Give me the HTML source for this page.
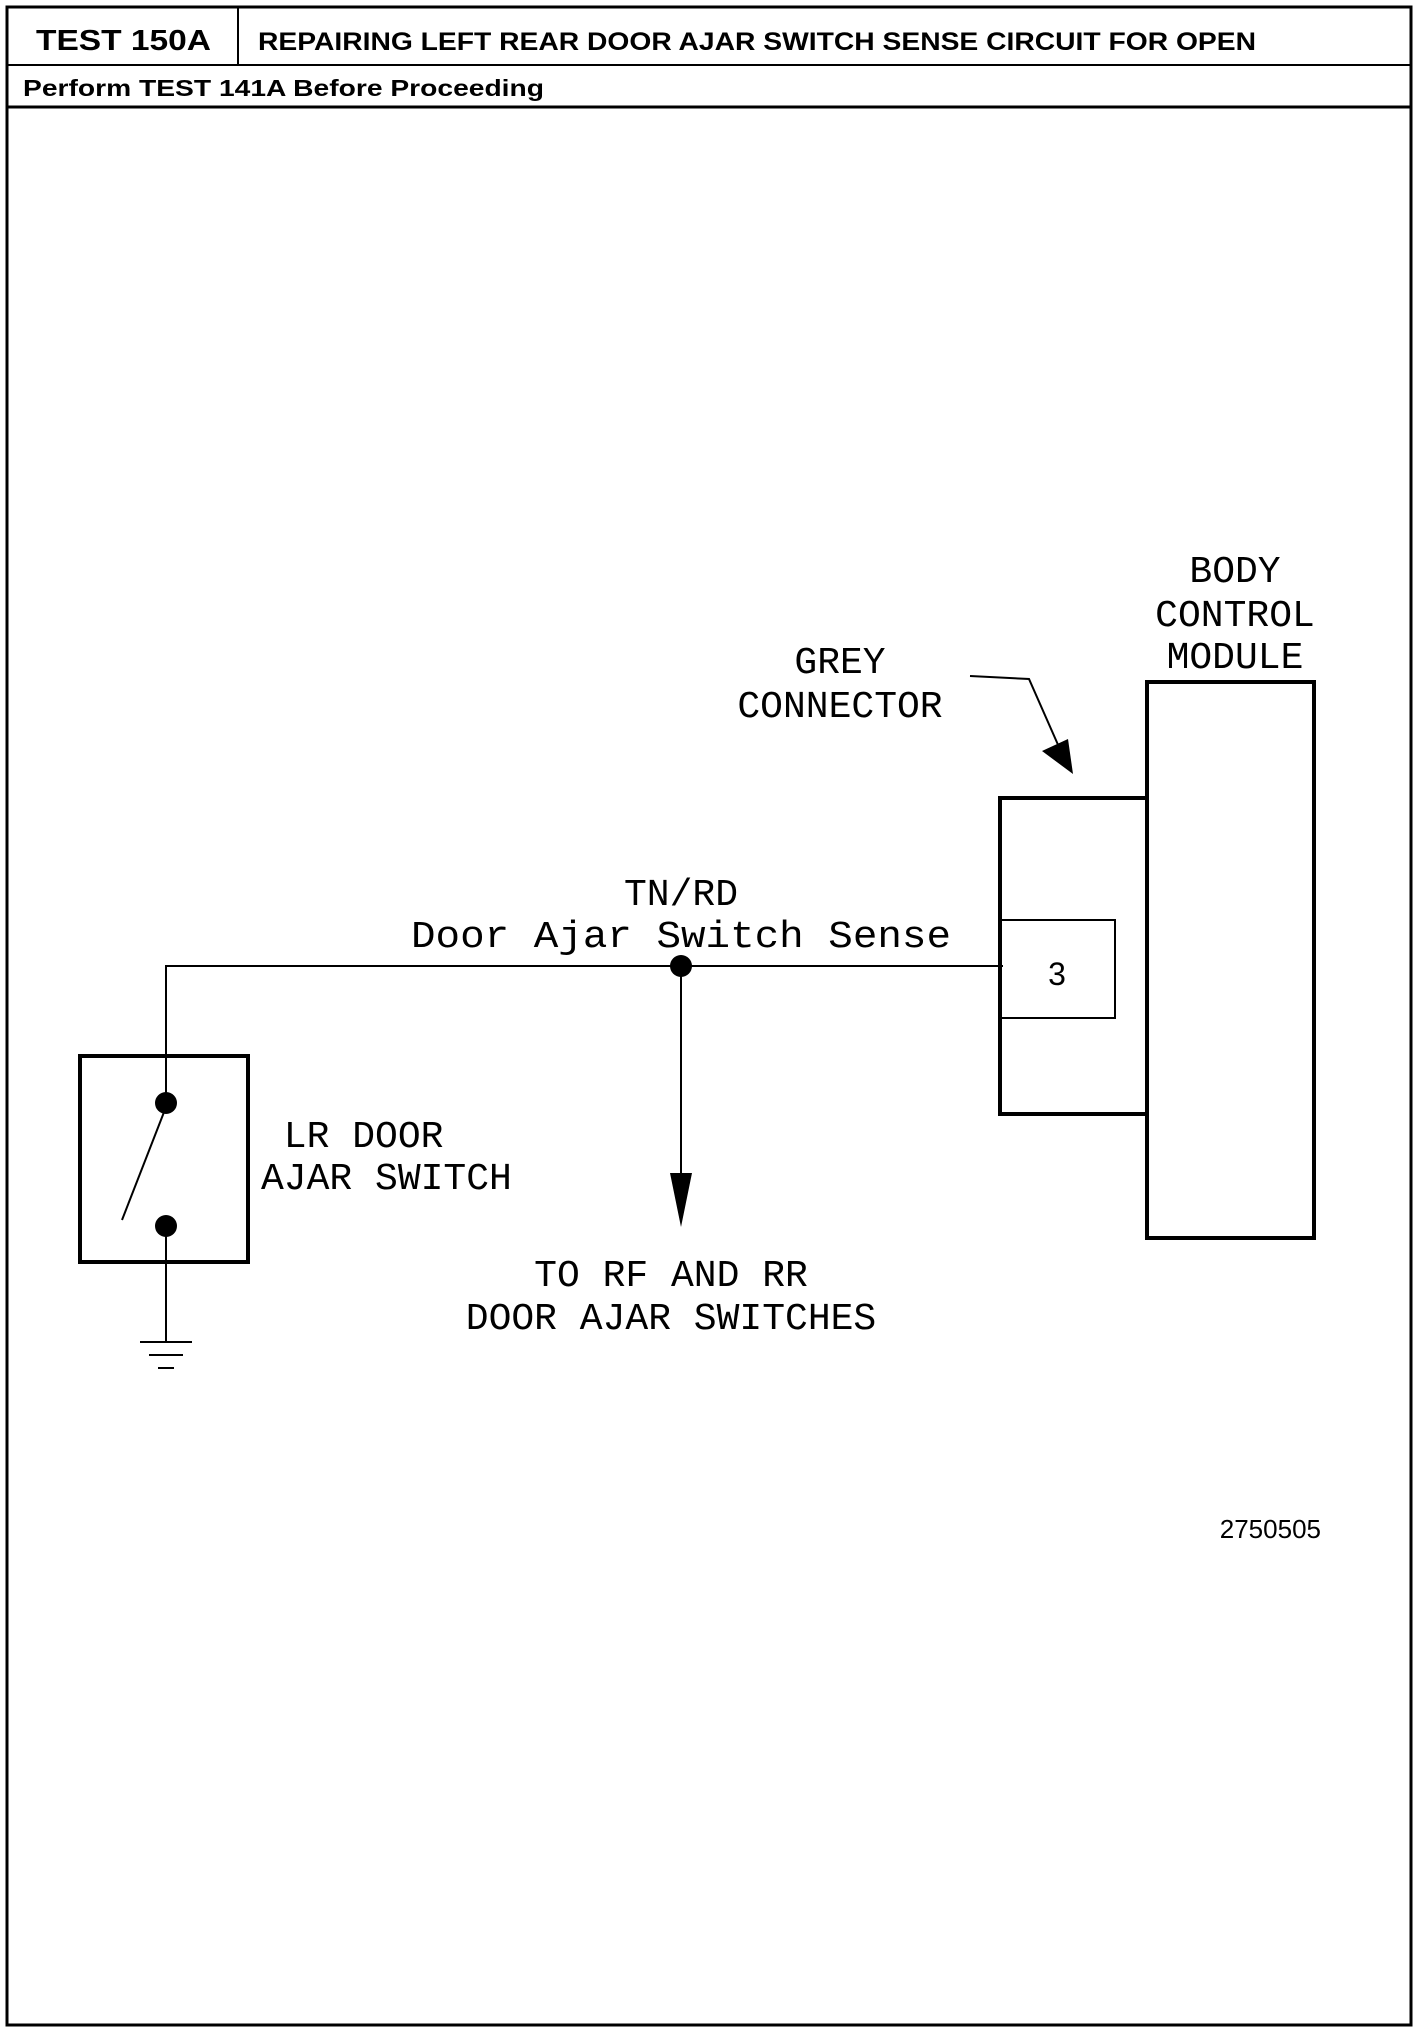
<!DOCTYPE html>
<html><head><meta charset="utf-8"><style>
html,body{margin:0;padding:0;background:#fff;}
svg{display:block;}
</style></head><body>
<svg width="1424" height="2030" viewBox="0 0 1424 2030" xmlns="http://www.w3.org/2000/svg">
<rect x="0" y="0" width="1424" height="2030" fill="#fff"/>
<g fill="none" stroke="#000" stroke-width="3">
<rect x="7" y="7" width="1404" height="2018"/>
<line x1="7" y1="65" x2="1411" y2="65" stroke-width="2"/>
<line x1="7" y1="107" x2="1411" y2="107" stroke-width="3"/>
<line x1="238" y1="7" x2="238" y2="65" stroke-width="2"/>
</g>
<g font-family="Liberation Sans, Arial, sans-serif" font-weight="bold" fill="#000">
<text x="36" y="50" font-size="29" textLength="175" lengthAdjust="spacingAndGlyphs">TEST 150A</text>
<text x="258" y="50" font-size="25" textLength="998" lengthAdjust="spacingAndGlyphs">REPAIRING LEFT REAR DOOR AJAR SWITCH SENSE CIRCUIT FOR OPEN</text>
<text x="23" y="96" font-size="23" textLength="521" lengthAdjust="spacingAndGlyphs">Perform TEST 141A Before Proceeding</text>
</g>
<g transform="translate(-3,-5)">
<g transform="translate(-3,0)">
<g fill="none" stroke="#000">
<rect x="1006" y="803" width="147" height="316" stroke-width="4"/>
<rect x="1006" y="925" width="115" height="98" stroke-width="2"/>
<rect x="1153" y="687" width="167" height="556" stroke-width="4"/>
<polyline points="976,681 1035,684 1065,752" stroke-width="2"/>
</g>
<polygon points="1048,756 1074,744 1079,779" fill="#000"/>
<g font-family="Liberation Mono, DejaVu Sans Mono, monospace" fill="#000" font-size="38">
<text x="1241" y="587" text-anchor="middle">BODY</text>
<text x="1241" y="631" text-anchor="middle">CONTROL</text>
<text x="1241" y="673" text-anchor="middle">MODULE</text>
<text x="846" y="678" text-anchor="middle">GREY</text>
<text x="846" y="722" text-anchor="middle">CONNECTOR</text>
<text x="1063" y="990" text-anchor="middle" font-family="Liberation Sans, sans-serif" font-size="32">3</text>
</g>
<text x="1327" y="1543" text-anchor="end" font-family="Liberation Sans, Arial, sans-serif" font-size="26" fill="#000">2750505</text>
</g>
<g fill="none" stroke="#000">
<polyline points="169,1108 169,971 1006,971" stroke-width="2"/>
<rect x="83" y="1061" width="168" height="206" stroke-width="4"/>
<line x1="169" y1="1231" x2="169" y2="1347" stroke-width="2"/>
<line x1="143" y1="1347" x2="195" y2="1347" stroke-width="2"/>
<line x1="152" y1="1360" x2="186" y2="1360" stroke-width="2"/>
<line x1="161" y1="1373" x2="177" y2="1373" stroke-width="2"/>
<line x1="169" y1="1112" x2="125" y2="1225" stroke-width="2"/>
<line x1="684" y1="971" x2="684" y2="1185" stroke-width="2"/>
</g>
<g fill="#000">
<circle cx="169" cy="1108" r="11"/>
<circle cx="169" cy="1231" r="11"/>
<circle cx="684" cy="971" r="11"/>
<polygon points="673,1178 695,1178 684,1232"/>
</g>
<g font-family="Liberation Mono, DejaVu Sans Mono, monospace" fill="#000" font-size="38">
<text x="684" y="910" text-anchor="middle">TN/RD</text>
<text x="684" y="952" text-anchor="middle" textLength="540" lengthAdjust="spacingAndGlyphs">Door Ajar Switch Sense</text>
<text x="264" y="1152">&#160;LR DOOR</text>
<text x="264" y="1194">AJAR SWITCH</text>
<text x="674" y="1291" text-anchor="middle">TO RF AND RR</text>
<text x="674" y="1334" text-anchor="middle">DOOR AJAR SWITCHES</text>
</g>
</g>
</svg>
</body></html>
